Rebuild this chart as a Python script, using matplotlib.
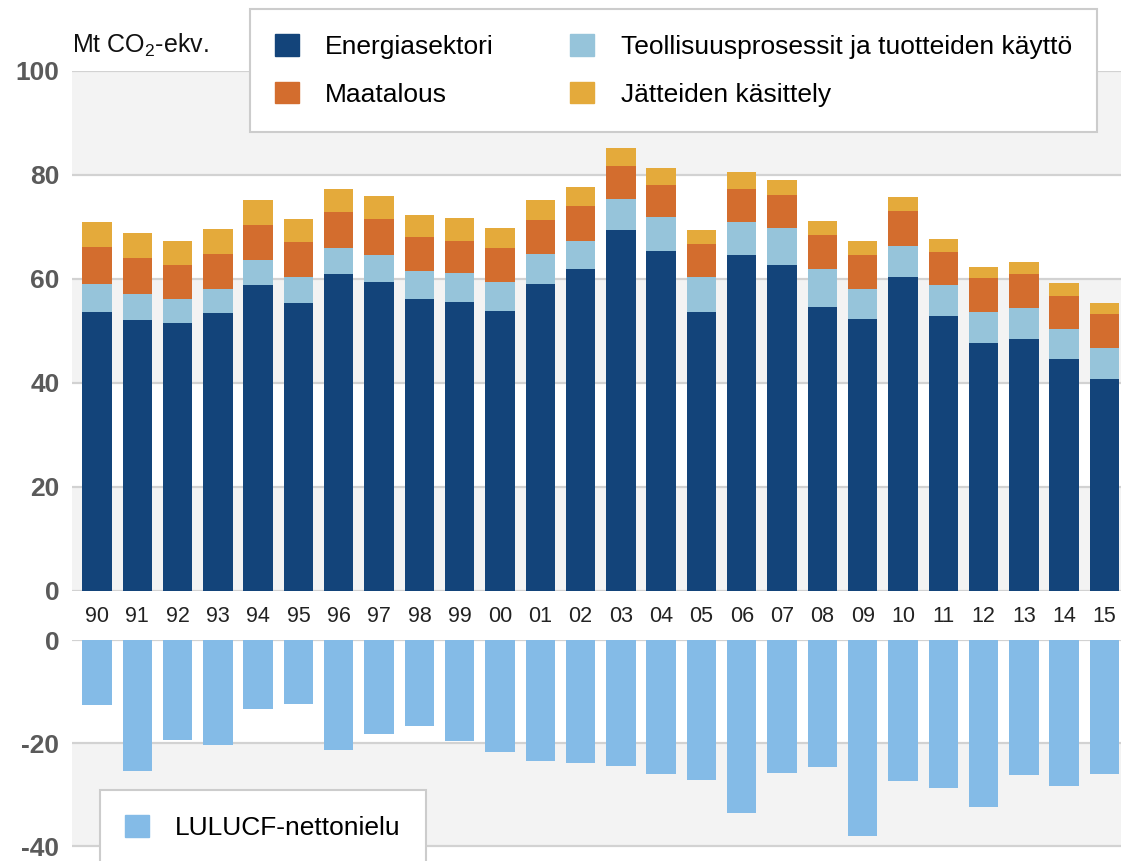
import numpy as np
import matplotlib
matplotlib.use("Agg")
import matplotlib.pyplot as plt
from matplotlib.patches import Patch

plt.rcParams['font.family'] = ['Liberation Sans', 'DejaVu Sans']
plt.rcParams['mathtext.fontset'] = 'custom'
plt.rcParams['mathtext.rm'] = 'Liberation Sans'

# years 1990-2015 (two-digit labels)
years = ["90", "91", "92", "93", "94", "95", "96", "97", "98", "99", "00", "01", "02",
         "03", "04", "05", "06", "07", "08", "09", "10", "11", "12", "13", "14", "15"]

# cumulative tops (Mt CO2-ekv.)
energy_top = [53.6, 52.2, 51.6, 53.5, 58.8, 55.3, 61.0, 59.5, 56.2, 55.6, 53.8, 59.1, 61.9,
              69.4, 65.3, 53.7, 64.7, 62.6, 54.6, 52.4, 60.3, 52.9, 47.6, 48.5, 44.6, 40.8]
industry_top = [59.0, 57.1, 56.2, 58.1, 63.6, 60.3, 66.0, 64.7, 61.5, 61.1, 59.5, 64.9, 67.4,
                75.4, 71.9, 60.3, 71.0, 69.9, 62.0, 58.1, 66.3, 58.8, 53.7, 54.5, 50.4, 46.8]
agri_top = [66.2, 64.1, 62.7, 64.8, 70.4, 67.1, 72.8, 71.5, 68.1, 67.4, 65.9, 71.4, 74.0,
            81.8, 78.0, 66.7, 77.4, 76.2, 68.5, 64.6, 73.0, 65.1, 60.1, 61.0, 56.8, 53.3]
waste_top = [71.0, 68.8, 67.4, 69.6, 75.2, 71.5, 77.4, 76.0, 72.3, 71.7, 69.9, 75.2, 77.6,
             85.1, 81.3, 69.5, 80.5, 79.0, 71.2, 67.3, 75.7, 67.7, 62.4, 63.2, 59.2, 55.4]

lulucf = [-12.7, -25.4, -19.5, -20.3, -13.3, -12.4, -21.4, -18.3, -16.6, -19.6, -21.7, -23.5, -23.9,
          -24.5, -26.0, -27.1, -33.5, -25.8, -24.7, -38.0, -27.3, -28.7, -32.4, -26.3, -28.3, -26.0]

energy = np.array(energy_top)
industry = np.array(industry_top) - np.array(energy_top)
agri = np.array(agri_top) - np.array(industry_top)
waste = np.array(waste_top) - np.array(agri_top)

c_energy = "#13447a"
c_industry = "#96c4da"
c_agri = "#d36d2e"
c_waste = "#e4aa3b"
c_lulucf = "#84bbe7"
band = "#f3f3f3"
grid = "#d2d2d2"
tick_col = "#5a5a5a"

W, H = 1121, 861
fig = plt.figure(figsize=(W / 100, H / 100), dpi=100)

left = 72 / W
ax = fig.add_axes([left, (H - 591) / H, 1 - left, 520 / H])
ax2 = fig.add_axes([left, 0, 1 - left, (H - 640) / H])

x = np.arange(len(years))
bw = 0.73

# top panel
for lo, hi in [(0, 20), (40, 60), (80, 100)]:
    ax.axhspan(lo, hi, color=band, zorder=0, lw=0)
for v in [0, 20, 40, 60, 80, 100]:
    ax.axhline(v, color=grid, lw=1.6, zorder=1)
ax.bar(x, energy, bw, color=c_energy, zorder=2)
ax.bar(x, industry, bw, bottom=energy, color=c_industry, zorder=2)
ax.bar(x, agri, bw, bottom=energy + industry, color=c_agri, zorder=2)
ax.bar(x, waste, bw, bottom=energy + industry + agri, color=c_waste, zorder=2)
ax.set_xlim(-0.62, 25.41)
ax.set_ylim(0, 100)
ax.set_yticks([0, 20, 40, 60, 80, 100])
ax.set_yticklabels(["0", "20", "40", "60", "80", "100"], fontsize=19, fontweight="bold", color=tick_col)
ax.set_xticks(x)
ax.set_xticklabels(years, fontsize=15.5, color="#222222")
ax.tick_params(length=0, axis="y", pad=9)
ax.tick_params(length=0, axis="x", pad=11)
for s in ax.spines.values():
    s.set_visible(False)
ax.set_facecolor("none")

# bottom panel
ax2.axhspan(-40, -20, color=band, zorder=0, lw=0)
for v in [0, -20, -40]:
    ax2.axhline(v, color=grid, lw=1.6, zorder=1)
ax2.bar(x, lulucf, bw, color=c_lulucf, zorder=2)
ax2.set_xlim(-0.62, 25.41)
ax2.set_ylim(-42.9, 0)
ax2.set_yticks([0, -20, -40])
ax2.set_yticklabels(["0", "-20", "-40"], fontsize=19, fontweight="bold", color=tick_col)
ax2.set_xticks([])
ax2.tick_params(length=0, axis="y", pad=9)
for s in ax2.spines.values():
    s.set_visible(False)
ax2.set_facecolor("none")

fig.text(72 / W, 1 - 45 / H, r"Mt CO$_2$-ekv.", fontsize=18, va="center", ha="left", color="#111111")

handles = [Patch(color=c_energy), Patch(color=c_agri), Patch(color=c_industry), Patch(color=c_waste)]
labels = ["Energiasektori", "Maatalous", "Teollisuusprosessit ja tuotteiden käyttö", "Jätteiden käsittely"]
leg = fig.legend(handles, labels, ncol=2, loc="upper left", bbox_to_anchor=(250 / W, 1 - 9 / H),
                 bbox_transform=fig.transFigure, fontsize=19, frameon=True, fancybox=False,
                 handlelength=0.9, handleheight=0.9, handletextpad=1.0, columnspacing=2.9,
                 labelspacing=0.85, borderpad=0.95, borderaxespad=0, framealpha=1)
leg.get_frame().set_edgecolor("#cccccc")
leg.get_frame().set_linewidth(1.5)

leg2 = fig.legend([Patch(color=c_lulucf)], ["LULUCF-nettonielu"], loc="upper left",
                  bbox_to_anchor=(100 / W, 1 - 790 / H), bbox_transform=fig.transFigure,
                  fontsize=19, frameon=True, fancybox=False, handlelength=0.9, handleheight=0.9,
                  handletextpad=1.0, borderpad=0.95, borderaxespad=0, framealpha=1)
leg2.get_frame().set_edgecolor("#cccccc")
leg2.get_frame().set_linewidth(1.5)

fig.savefig("out.png", dpi=100, facecolor="white")
